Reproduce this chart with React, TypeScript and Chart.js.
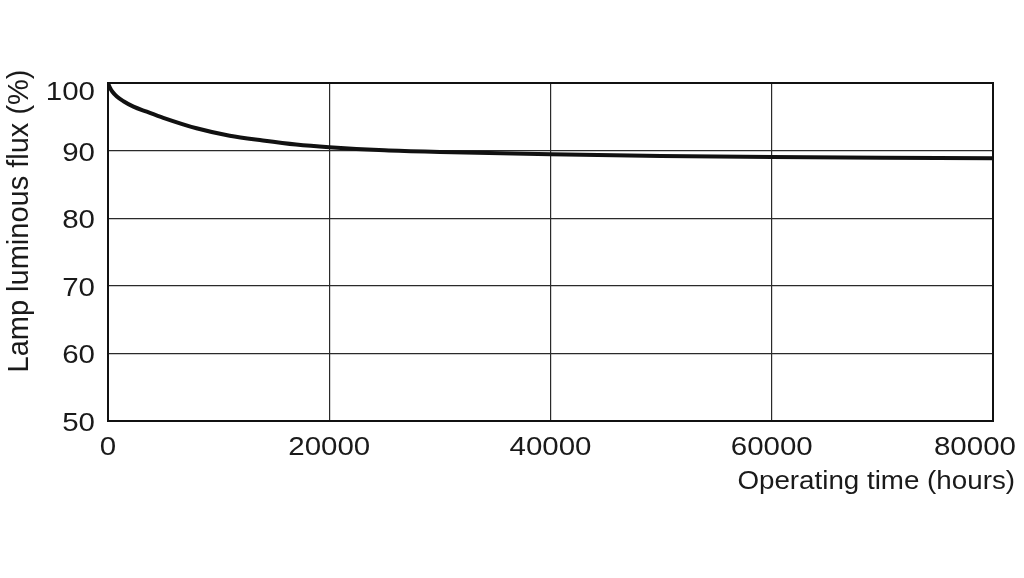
import React, { useEffect, useRef } from "react";
import { Chart, registerables } from "chart.js";

Chart.register(...registerables);

const hours = [0, 150, 400, 800, 1400, 2300, 3500, 5000, 8000, 11000, 14000, 17000, 20000, 25000, 30000, 40000, 50000, 60000, 70000, 80000];
const flux = [100, 99.4, 98.7, 98.0, 97.3, 96.5, 95.75, 94.85, 93.3, 92.2, 91.5, 90.9, 90.5, 90.05, 89.8, 89.45, 89.2, 89.05, 88.95, 88.85];
const xTicks = [0, 20000, 40000, 60000, 80000];
const yTicks = [50, 60, 70, 80, 90, 100];
const xTitle = "Operating time (hours)";
const yTitle = "Lamp luminous flux (%)";

const FONT = "'Liberation Sans', Arial, sans-serif";
const TEXT = "#1a1a1a";

function stretchedText(ctx: CanvasRenderingContext2D, text: string, x: number, y: number, align: CanvasTextAlign, size: number, sx: number) {
  ctx.save();
  ctx.translate(x, y);
  ctx.scale(sx, 1);
  ctx.font = `${size}px ${FONT}`;
  ctx.textAlign = align;
  ctx.textBaseline = "alphabetic";
  ctx.fillStyle = TEXT;
  ctx.fillText(text, 0, 0);
  ctx.restore();
}

export default function App() {
  const ref = useRef<HTMLCanvasElement | null>(null);
  useEffect(() => {
    if (!ref.current) return;
    const framePlugin = {
      id: "frame",
      afterDraw(chart: any) {
        const { ctx, chartArea: a } = chart;
        const xs = chart.scales.x;
        const ys = chart.scales.y;
        ctx.save();
        ctx.strokeStyle = "#111";
        ctx.lineWidth = 2;
        ctx.strokeRect(a.left, a.top, a.right - a.left, a.bottom - a.top);
        const sx = 1.18;
        const size = 25;
        ctx.font = `${size}px ${FONT}`;
        for (const v of xTicks) {
          const label = String(v);
          const w = ctx.measureText(label).width * sx;
          const px = xs.getPixelForValue(v);
          if (px + w / 2 > 1016) {
            stretchedText(ctx, label, 1016, 455, "right", size, sx);
          } else {
            stretchedText(ctx, label, px, 455, "center", size, sx);
          }
        }
        for (const v of yTicks) {
          const py = ys.getPixelForValue(v);
          const off = v === 100 ? 17 : 10;
          stretchedText(ctx, String(v), 95, py + off, "right", size, sx);
        }
        stretchedText(ctx, xTitle, 1015, 489, "right", size, 1.11);
        ctx.translate(20, 221);
        ctx.rotate(-Math.PI / 2);
        ctx.font = `29px ${FONT}`;
        ctx.fillStyle = TEXT;
        ctx.textAlign = "center";
        ctx.textBaseline = "middle";
        ctx.fillText(yTitle, 0, 0);
        ctx.restore();
      },
    };
    const chart = new Chart(ref.current, {
      type: "line",
      data: {
        datasets: [
          {
            data: hours.map((h, i) => ({ x: h, y: flux[i] })),
            borderColor: "#111",
            borderWidth: 4,
            pointRadius: 0,
            cubicInterpolationMode: "monotone",
            fill: false,
          },
        ],
      },
      options: {
        animation: false,
        responsive: false,
        layout: { padding: { top: 83, right: 31, left: 0, bottom: 0 } },
        plugins: { legend: { display: false }, tooltip: { enabled: false } },
        scales: {
          x: {
            type: "linear",
            min: 0,
            max: 80000,
            afterBuildTicks: (s: any) => {
              s.ticks = xTicks.map((v) => ({ value: v }));
            },
            afterFit: (s: any) => {
              s.height = 157;
              s.paddingLeft = 0;
              s.paddingRight = 0;
            },
            ticks: { display: false },
            grid: { color: "#2a2a2a", lineWidth: 1.2, drawTicks: false },
            border: { display: false },
          },
          y: {
            min: 50,
            max: 100,
            afterBuildTicks: (s: any) => {
              s.ticks = yTicks.map((v) => ({ value: v }));
            },
            afterFit: (s: any) => {
              s.width = 108;
              s.paddingTop = 0;
              s.paddingBottom = 0;
            },
            ticks: { display: false },
            grid: { color: "#2a2a2a", lineWidth: 1.2, drawTicks: false },
            border: { display: false },
          },
        },
      },
      plugins: [framePlugin],
    } as any);
    return () => chart.destroy();
  }, []);
  return (
    <div style={{ position: "fixed", left: 0, top: 0, width: 1024, height: 578, background: "#fff" }}>
      <canvas ref={ref} width={1024} height={578} style={{ width: 1024, height: 578, display: "block" }} />
    </div>
  );
}
